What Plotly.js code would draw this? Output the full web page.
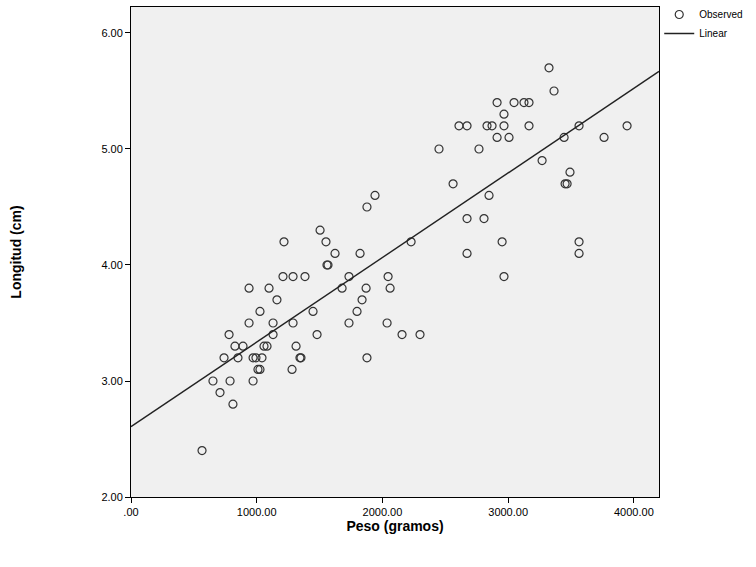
<!DOCTYPE html>
<html>
<head>
<meta charset="utf-8">
<script src="https://cdn.plot.ly/plotly-3.0.1.min.js"></script>
<style>html,body{margin:0;padding:0;background:#fff;}#chart{width:756px;height:567px;}</style>
</head>
<body>
<div id="chart"></div>
<script>
const peso = [565,652,708,740,780,788,827,811,851,891,939,939,971,971,994,1010,1026,1026,1042,1058,1082,1098,1130,1130,1161,1209,1217,1289,1289,1281,1313,1344,1352,1384,1448,1480,1504,1551,1559,1567,1623,1679,1734,1734,1822,1798,1838,1870,1877,1877,1941,2037,2045,2061,2156,2228,2299,2450,2562,2609,2673,2673,2673,2768,2808,2832,2848,2872,2912,2912,2952,2967,2967,2967,3007,3047,3126,3166,3166,3270,3325,3365,3445,3453,3469,3492,3564,3564,3564,3763,3946];
const longitud = [2.4,3.0,2.9,3.2,3.4,3.0,3.3,2.8,3.2,3.3,3.8,3.5,3.0,3.2,3.2,3.1,3.6,3.1,3.2,3.3,3.3,3.8,3.5,3.4,3.7,3.9,4.2,3.9,3.5,3.1,3.3,3.2,3.2,3.9,3.6,3.4,4.3,4.2,4.0,4.0,4.1,3.8,3.5,3.9,4.1,3.6,3.7,3.8,4.5,3.2,4.6,3.5,3.9,3.8,3.4,4.2,3.4,5.0,4.7,5.2,5.2,4.4,4.1,5.0,4.4,5.2,4.6,5.2,5.4,5.1,4.2,5.3,5.2,3.9,5.1,5.4,5.4,5.4,5.2,4.9,5.7,5.5,5.1,4.7,4.7,4.8,5.2,4.2,4.1,5.1,5.2];
const lineX = [0, 4200];
const xTickVals = [0,1000,2000,3000,4000];
const xTickText = ['.00','1000.00','2000.00','3000.00','4000.00'];
const yTickVals = [2,3,4,5,6];
const yTickText = ['2.00','3.00','4.00','5.00','6.00'];

// least squares fit
const n = peso.length;
const mx = peso.reduce((a,b)=>a+b,0)/n;
const my = longitud.reduce((a,b)=>a+b,0)/n;
let sxy=0, sxx=0;
for (let i=0;i<n;i++){ sxy += (peso[i]-mx)*(longitud[i]-my); sxx += (peso[i]-mx)**2; }
const slope = sxy/sxx, intercept = my - slope*mx;
const lineY = lineX.map(x => intercept + slope*x);

const font = "Liberation Sans, Arial, sans-serif";
const data = [
  {x: peso, y: longitud, type:'scatter', mode:'markers', name:'Observed',
   marker:{symbol:'circle-open', size:8, color:'#333', line:{width:1.2, color:'#333'}}},
  {x: lineX, y: lineY, type:'scatter', mode:'lines', name:'Linear',
   line:{color:'#222', width:1.4}}
];
const layout = {
  width:756, height:567,
  margin:{l:131, r:97, t:7, b:70, autoexpand:false},
  paper_bgcolor:'#ffffff', plot_bgcolor:'#f0f0f0',
  font:{family:font, size:11, color:'#000'},
  showlegend:true,
  legend:{xref:'container', yref:'container', x:0.872, y:1.008, xanchor:'left', yanchor:'top',
          font:{size:10, family:font, color:'#000'},
          bgcolor:'rgba(0,0,0,0)', itemwidth:30, tracegroupgap:0},
  xaxis:{range:[0,4200], tickvals:xTickVals, ticktext:xTickText, ticks:'outside', ticklen:5, tickcolor:'#000',
         showgrid:false, zeroline:false, showline:true, linecolor:'#000', linewidth:1, mirror:true,
         tickfont:{size:11, family:font},
         title:{text:'<b>Peso (gramos)</b>', font:{size:14, family:font}, standoff:2}},
  yaxis:{range:[2,6.224], tickvals:yTickVals, ticktext:yTickText, ticks:'outside', ticklen:5, tickcolor:'#000',
         showgrid:false, zeroline:false, showline:true, linecolor:'#000', linewidth:1, mirror:true,
         tickfont:{size:11, family:font},
         title:{text:'<b>Longitud (cm)</b>', font:{size:14, family:font}, standoff:76}}
};
Plotly.newPlot('chart', data, layout, {displayModeBar:false});
</script>
</body>
</html>
